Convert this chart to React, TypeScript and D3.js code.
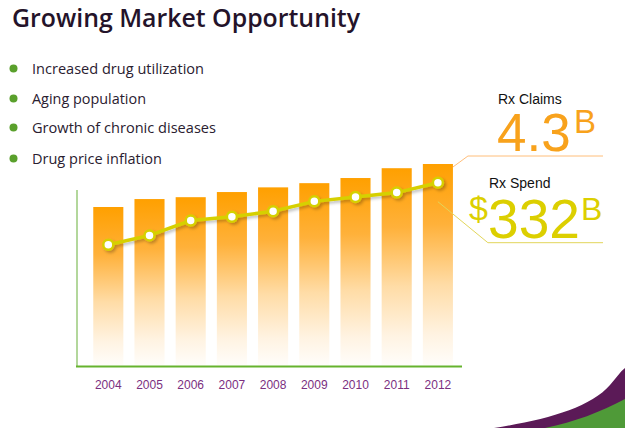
import React from 'react';
import * as d3 from 'd3';

const years = ['2004', '2005', '2006', '2007', '2008', '2009', '2010', '2011', '2012'];
// Rx claims, billions (bars)
const claims = [3.38, 3.55, 3.59, 3.7, 3.8, 3.89, 4.0, 4.21, 4.3];
// Rx spend, $ billions (line)
const spend = [219, 236, 263, 270, 280, 298, 306, 314, 332];
const bullets = [
  'Increased drug utilization',
  'Aging population',
  'Growth of chronic diseases',
  'Drug price inflation',
];
const bulletWidths = [172, 114, 184, 130];

const W = 625;
const H = 428;
const base = 365;

const App: React.FC = () => {
  const x = d3.scaleBand<string>()
    .domain(years)
    .range([87.7, 458.5])
    .paddingInner(0.27)
    .paddingOuter(0.135);
  const yClaims = d3.scaleLinear().domain([0, 4.3]).range([base, 164]);
  const ySpend = d3.scaleLinear().domain([0, 332]).range([base, 182.7]);

  const cx = (d: string) => (x(d) ?? 0) + x.bandwidth() / 2;
  const line = d3.line<number>()
    .x((_, i) => cx(years[i]))
    .y(d => ySpend(d));

  const last = years.length - 1;
  const barRight = (x(years[last]) ?? 0) + x.bandwidth();
  const claimTop = yClaims(claims[last]);
  const spendY = ySpend(spend[last]);
  const spendX = cx(years[last]);

  // swoosh in the bottom right corner
  const purple = `M 494 ${H} C 545 420, 590 408, 610 385 C 616 378, 620 372, ${W} 368 L ${W} ${H} Z`;
  const green = `M 545 ${H} C 575 422, 600 412, ${W} 399 L ${W} ${H} Z`;

  return (
    <svg width={W} height={H} style={{ position: 'absolute', left: 0, top: 0, background: '#fff' }}>
      <defs>
        <linearGradient id="barGrad" x1="0" y1="0" x2="0" y2="1">
          <stop offset="0" stopColor="#ffa000" />
          <stop offset="0.3" stopColor="#ffb13a" />
          <stop offset="0.6" stopColor="#ffdca6" />
          <stop offset="0.85" stopColor="#fff3e2" />
          <stop offset="1" stopColor="#fffdfa" />
        </linearGradient>
        <filter id="shadow" x="-10%" y="-50%" width="120%" height="200%">
          <feDropShadow dx="2" dy="2" stdDeviation="1.5" floodColor="#000" floodOpacity="0.25" />
        </filter>
      </defs>

      <text x={12} y={27} fontFamily="'Open Sans', sans-serif" fontWeight={600} fontSize={25.5}
        fill="#24132a" textLength={348} lengthAdjust="spacingAndGlyphs">
        Growing Market Opportunity
      </text>

      {bullets.map((b, i) => {
        const by = [74, 104, 133, 164][i];
        return (
          <g key={b}>
            <circle cx={13.5} cy={by - 5.5} r={4} fill="#5aa02c" />
            <text x={32} y={by} fontFamily="'Open Sans', sans-serif" fontSize={15} fill="#2a2030"
              textLength={bulletWidths[i]} lengthAdjust="spacingAndGlyphs">{b}</text>
          </g>
        );
      })}

      {/* axes */}
      <line x1={77} y1={190} x2={77} y2={366} stroke="#b3d79c" strokeWidth={2} />
      <line x1={76} y1={366.5} x2={462} y2={366.5} stroke="#66b32e" strokeWidth={2} />

      {/* bars */}
      {years.map((yr, i) => (
        <rect key={yr} x={x(yr)} y={yClaims(claims[i])} width={x.bandwidth()}
          height={base - yClaims(claims[i])} fill="url(#barGrad)" />
      ))}

      {/* spend line */}
      <g filter="url(#shadow)">
        <path d={line(spend) ?? ''} fill="none" stroke="#d6d000" strokeWidth={3.5} />
        {spend.map((v, i) => (
          <circle key={i} cx={cx(years[i])} cy={ySpend(v)} r={5} fill="#fff" stroke="#d6d000" strokeWidth={2.5} />
        ))}
      </g>

      {/* year labels */}
      {years.map(yr => (
        <text key={yr} x={cx(yr)} y={389} textAnchor="middle" fontFamily="'Liberation Sans', Arial, sans-serif"
          fontSize={12} fill="#7b2f7f">{yr}</text>
      ))}

      {/* callouts */}
      <polyline points={`${barRight},${claimTop + 3} ${barRight + 15},${claimTop - 8} 603,${claimTop - 8}`}
        fill="none" stroke="#ffbe7a" strokeWidth={1} />
      <polyline points={`${spendX},${spendY + 19} ${spendX + 50},${spendY + 60} 603,${spendY + 60}`}
        fill="none" stroke="#e2d65a" strokeWidth={1} />

      <g fontFamily="'Liberation Sans', Arial, sans-serif">
        <text x={498} y={104} fontSize={14} fill="#111">Rx Claims</text>
        <text x={497} y={151} fontSize={53} fill="#f8a21c">4.3</text>
        <text x={574} y={133} fontSize={33} fill="#f8a21c">B</text>

        <text x={489} y={188} fontSize={14} fill="#111">Rx Spend</text>
        <text x={469} y={220} fontSize={34} fill="#dccf00">$</text>
        <text x={488} y={238} fontSize={56} fill="#dccf00" textLength={92} lengthAdjust="spacingAndGlyphs">332</text>
        <text x={581} y={220} fontSize={32} fill="#dccf00">B</text>
      </g>

      <path d={purple} fill="#5b1a57" />
      <path d={green} fill="#4f9a38" />
    </svg>
  );
};

export default App;
